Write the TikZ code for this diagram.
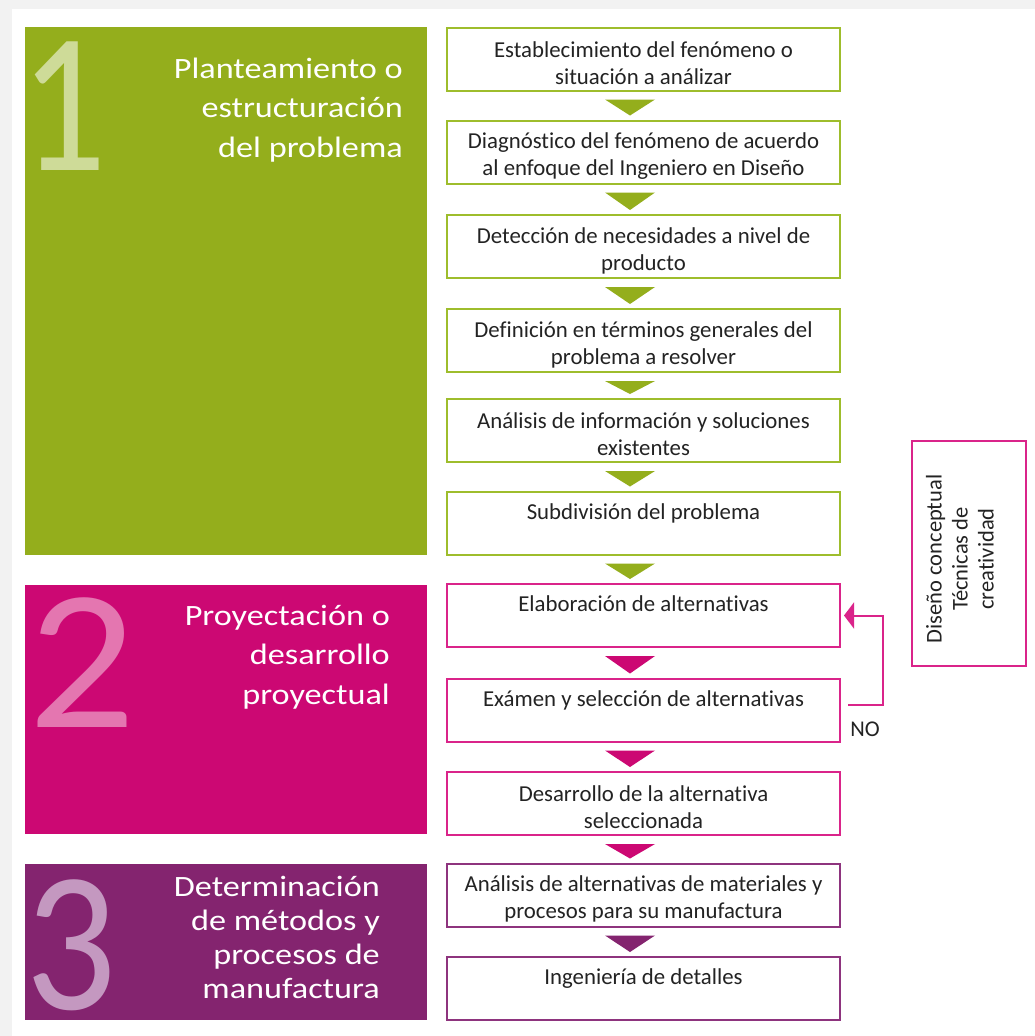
\documentclass[tikz,border=0pt]{standalone}
\usepackage{fontspec}
\setmainfont[Ligatures={NoCommon}]{Carlito}
\newfontfamily\headfont[FakeStretch=1.16,Ligatures={NoCommon}]{Carlito}
\usetikzlibrary{arrows.meta,calc}

\definecolor{pagegray}{RGB}{242,242,242}
\definecolor{txt}{RGB}{35,35,35}
\definecolor{grn}{RGB}{148,174,28}
\definecolor{grnnum}{RGB}{206,219,152}
\definecolor{grnline}{RGB}{158,189,44}
\definecolor{mag}{RGB}{204,8,115}
\definecolor{magnum}{RGB}{228,118,176}
\definecolor{magline}{RGB}{218,36,138}
\definecolor{pur}{RGB}{132,36,111}
\definecolor{purnum}{RGB}{196,152,192}
\definecolor{purline}{RGB}{142,52,126}

\tikzset{
  panel/.style={inner sep=0pt, minimum width=402pt, anchor=north west},
  bignum/.style={anchor=base west, inner sep=0pt, font=\fontsize{200}{200}\selectfont},
  paneltitle/.style={anchor=north east, inner sep=0pt, align=right, text=white},
  stepbox/.style={draw, line width=2pt, fill=white, minimum width=393pt,
    minimum height=63pt, inner sep=0pt, align=center, text=txt,
    font=\fontsize{22.8}{27}\selectfont},
  greenbox/.style={stepbox, draw=grnline},
  magbox/.style={stepbox, draw=magline},
  purbox/.style={stepbox, draw=purline},
  feedback/.style={draw=magline, line width=2pt, -{Triangle[length=10pt,width=26pt]}},
}

% step texts: two lines, or one line kept in the upper half of its box
\newcommand{\twolines}[2]{\rule{0pt}{24pt}#1\\#2}
\newcommand{\oneline}[1]{\rule{0pt}{19pt}#1\\\mbox{}}

% downward triangle between two consecutive steps
\newcommand{\steptri}[3]{%
  \fill[#3] ($(#1.south)+(-38.5,8)$) -- ($(#1.south)+(11.5,8)$)
    -- ($(#2.north)+(-13.5,-4)$) -- cycle;}

\begin{document}
\begin{tikzpicture}[x=1pt,y=-1pt]
  % page frame
  \fill[pagegray] (0,0) rectangle (1035,1036);
  \fill[white] (12,9) rectangle (1035,1036);
  \useasboundingbox (0,0) rectangle (1035,1036);

  % ---- stage panels ----
  \node[panel, fill=grn, minimum height=528pt] (p1) at (25,27) {};
  \node[panel, fill=mag, minimum height=249pt] (p2) at (25,585) {};
  \node[panel, fill=pur, minimum height=156pt] (p3) at (25,864) {};

  \node[bignum, text=grnnum, xscale=0.85] (n1) at (20,170) {1};
  \node[bignum, text=magnum, xscale=1.06] (n2) at (28,727) {2};
  \node[bignum, text=purnum, xscale=0.9] (n3) at (25,1009) {3};

  \node[paneltitle, font=\headfont\fontsize{29.5}{39.5}\selectfont] (t1) at (403,53)
    {\rule{0pt}{25pt}Planteamiento o\\estructuración\\del problema};
  \node[paneltitle, font=\headfont\fontsize{29.5}{39.5}\selectfont] (t2) at (390,600)
    {\rule{0pt}{25pt}Proyectación o\\desarrollo\\proyectual};
  \node[paneltitle, font=\headfont\fontsize{29.5}{34}\selectfont] (t3) at (380,871)
    {\rule{0pt}{25pt}Determinación\\de métodos y\\procesos de\\manufactura};

  % ---- steps ----
  \node[greenbox] (b1) at (643.5,59)    {\twolines{Establecimiento del fenómeno o}{situación a análizar}};
  \node[greenbox] (b2) at (643.5,152)   {\twolines{Diagnóstico del fenómeno de acuerdo}{al enfoque del Ingeniero en Diseño}};
  \node[greenbox] (b3) at (643.5,246.5) {\twolines{Detección de necesidades a nivel de}{producto}};
  \node[greenbox] (b4) at (643.5,340.5) {\twolines{Definición en términos generales del}{problema a resolver}};
  \node[greenbox] (b5) at (643.5,430.5) {\twolines{Análisis de información y soluciones}{existentes}};
  \node[greenbox] (b6) at (643.5,523)   {\oneline{Subdivisión del problema}};
  \node[magbox] (b7) at (643.5,615.5)   {\oneline{Elaboración de alternativas}};
  \node[magbox] (b8) at (643.5,710)     {\oneline{Exámen y selección de alternativas}};
  \node[magbox] (b9) at (643.5,803.5)   {\twolines{Desarrollo de la alternativa}{seleccionada}};
  \node[purbox] (b10) at (643.5,895)    {\twolines{Análisis de alternativas de materiales y}{procesos para su manufactura}};
  \node[purbox] (b11) at (643.5,988.5)  {\oneline{Ingeniería de detalles}};

  % ---- flow triangles ----
  \steptri{b1}{b2}{grn}
  \steptri{b2}{b3}{grn}
  \steptri{b3}{b4}{grn}
  \steptri{b4}{b5}{grn}
  \steptri{b5}{b6}{grn}
  \steptri{b6}{b7}{grn}
  \steptri{b7}{b8}{mag}
  \steptri{b8}{b9}{mag}
  \steptri{b9}{b10}{mag}
  \steptri{b10}{b11}{pur}

  % ---- loop back when the selection fails ----
  \coordinate (loopA) at ($(b8.east)+(7,-5)$);
  \coordinate (loopB) at ($(b7.east)+(3,0)$);
  \draw[feedback] (loopA) -- ++(35,0) |- (loopB);
  \node[font=\fontsize{22.5}{26}\selectfont, text=txt, inner sep=0pt] (no) at (865,729) {NO};

  % ---- side note ----
  \node[draw=magline, line width=2pt, minimum width=114pt, minimum height=225pt,
        inner sep=0pt] (side) at (969,553.5) {};
  \node[rotate=90, align=center, inner sep=0pt, text=txt,
        font=\fontsize{22.5}{26}\selectfont] (sidetxt) at (960,559)
    {Diseño conceptual\\Técnicas de\\creatividad};
\end{tikzpicture}
\end{document}
